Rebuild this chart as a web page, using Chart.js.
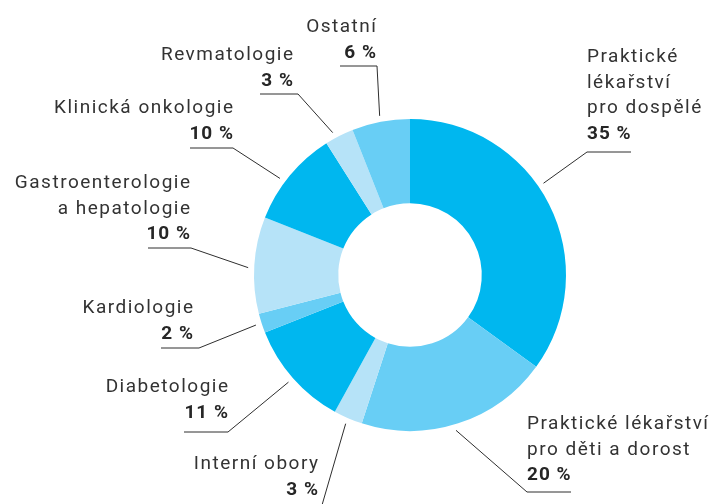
<!DOCTYPE html>
<html>
<head>
<meta charset="utf-8">
<script src="https://cdn.jsdelivr.net/npm/chart.js@4"></script>
<style>
  html, body { margin: 0; padding: 0; background: #fff; }
  #wrap { width: 720px; height: 504px; position: relative; }
</style>
</head>
<body>
<div id="wrap"><canvas id="donut" width="720" height="504"></canvas></div>
<script>
const CATEGORIES = [
    'Praktické\nlékařství\npro dospělé',
    'Praktické lékařství\npro děti a dorost',
    'Interní obory',
    'Diabetologie',
    'Kardiologie',
    'Gastroenterologie\na hepatologie',
    'Klinická onkologie',
    'Revmatologie',
    'Ostatní'
];
const VALUES = [35, 20, 3, 11, 2, 10, 10, 3, 6];

const COLORS = {
    bright: '#00b7ef',
    medium: '#68cef5',
    light: '#b6e3f8'
};
const SLICE_COLORS = [
    COLORS.bright, COLORS.medium, COLORS.light,
    COLORS.bright, COLORS.medium, COLORS.light,
    COLORS.bright, COLORS.light, COLORS.medium
];

// label placement: text anchor, first baseline, elbow of the leader, end of the underline
const LABEL_LAYOUT = [
    {align: 'left',  x: 587, y: 62,  elbow: [587, 152], endX: 631, shift: -7.5},
    {align: 'left',  x: 527, y: 429, elbow: [527, 492], endX: 571, shift: 1.5},
    {align: 'right', x: 318, y: 469, elbow: [320, 512], endX: 320, shift: 0},
    {align: 'right', x: 228, y: 392, elbow: [228, 432], endX: 184, shift: 0},
    {align: 'right', x: 193, y: 313, elbow: [199, 348], endX: 161, shift: 0},
    {align: 'right', x: 190, y: 188, elbow: [191, 248], endX: 148, shift: -1},
    {align: 'right', x: 233, y: 113, elbow: [233, 148], endX: 190, shift: -3},
    {align: 'right', x: 293, y: 60,  elbow: [298, 94],  endX: 260, shift: -1.5},
    {align: 'right', x: 376, y: 32,  elbow: [377, 66],  endX: 340, shift: 0}
];

const LINE_HEIGHT = 25.5;
const FONT_FAMILY = 'Roboto, "Noto Sans", sans-serif';

const calloutPlugin = {
    id: 'callouts',
    afterDraw: function (chart) {
        const ctx = chart.ctx;
        const arcs = chart.getDatasetMeta(0).data;
        ctx.save();
        arcs.forEach(function (arc, i) {
            const lay = LABEL_LAYOUT[i];
            const p = arc.getProps(['x', 'y', 'startAngle', 'endAngle', 'outerRadius'], true);
            const mid = (p.startAngle + p.endAngle) / 2 + lay.shift * Math.PI / 180;
            const r = p.outerRadius + 6;
            const sx = p.x + Math.cos(mid) * r;
            const sy = p.y + Math.sin(mid) * r;

            ctx.strokeStyle = '#2e2e2e';
            ctx.lineWidth = 1;
            ctx.beginPath();
            ctx.moveTo(sx, sy);
            ctx.lineTo(lay.elbow[0], lay.elbow[1]);
            ctx.lineTo(lay.endX, lay.elbow[1]);
            ctx.stroke();

            const lines = CATEGORIES[i].split('\n');
            ctx.textAlign = lay.align;
            ctx.textBaseline = 'alphabetic';
            ctx.letterSpacing = '1.5px';
            ctx.fillStyle = '#333333';
            ctx.font = '19px ' + FONT_FAMILY;
            const off = lay.align === 'right' ? 1.5 : 0;
            lines.forEach(function (t, k) {
                ctx.fillText(t, lay.x + off, lay.y + k * LINE_HEIGHT);
            });
            ctx.fillStyle = '#262626';
            ctx.font = 'bold 19px ' + FONT_FAMILY;
            ctx.letterSpacing = '1px';
            ctx.fillText(VALUES[i] + ' %', lay.x + (off ? 1 : 0), lay.y + lines.length * LINE_HEIGHT);
        });
        ctx.restore();
    }
};

var data = {
    labels: CATEGORIES,
    datasets: [{
        data: VALUES,
        backgroundColor: SLICE_COLORS,
        borderWidth: 0,
        hoverOffset: 0
    }]
};

var options = {
    responsive: false,
    animation: false,
    cutout: '46%',
    layout: {
        padding: {left: 254, right: 154, top: 119, bottom: 73}
    },
    plugins: {
        legend: {display: false},
        tooltip: {enabled: false}
    }
};

var donutChart = new Chart(document.getElementById('donut'), {
    type: 'doughnut',
    data: data,
    options: options,
    plugins: [calloutPlugin]
});
</script>
</body>
</html>
